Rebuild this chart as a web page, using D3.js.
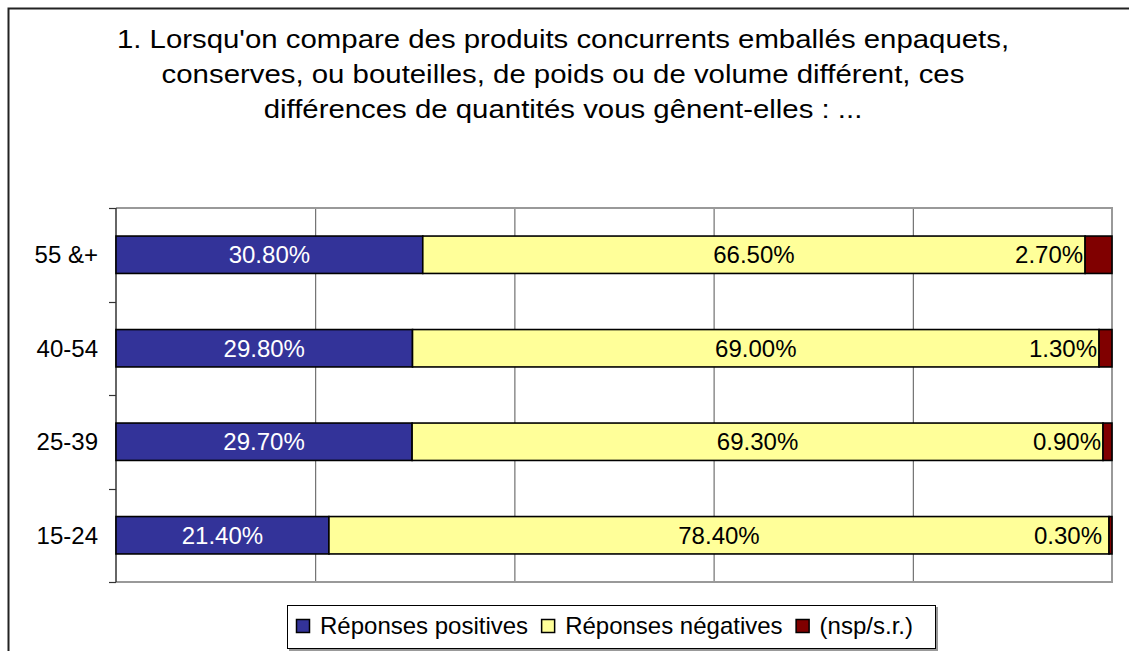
<!DOCTYPE html>
<html>
<head>
<meta charset="utf-8">
<script src="https://cdn.jsdelivr.net/npm/d3@7"></script>
<style>
body{margin:0;background:#fff;}
svg text{font-family:"Liberation Sans",Arial,sans-serif;}
</style>
</head>
<body>
<svg id="svg_canvas" width="1129" height="651"></svg>
<script>

// data
var categories=["55 &+","40-54","25-39","15-24"];
var positives=[30.8,29.8,29.7,21.4];
var negatives=[66.5,69.0,69.3,78.4];
var nsp=[2.7,1.3,0.9,0.3];
var series_names=["Réponses positives","Réponses négatives","(nsp/s.r.)"];
var series_colors=["#333399","#FFFF99","#800000"];
var x_ticks=[0,20,40,60,80,100];
var title_lines=["1. Lorsqu'on compare des produits concurrents emballés enpaquets,",
	"conserves, ou bouteilles, de poids ou de volume différent, ces",
	"différences de quantités vous gênent-elles : ..."];

var svg=d3.select("#svg_canvas");

var left_x=116, right_x=1112, top_y=208, bottom_y=582;
var fsize=24;

// outer frame (left + top only, right side is cut off)
svg.append("path")
	.attr("d","M8.5,651 L8.5,8.5 L1129,8.5")
	.attr("fill","none").attr("stroke","#222").attr("stroke-width",2);

// title, font looks a bit wider than the rest
var title_g=svg.append("g").attr("transform","translate(563,0) scale(1.13,1)");
title_g.selectAll("text").data(title_lines)
	.enter().append("text")
		.attr("x",0)
		.attr("y",function(d,i){return 48+i*35;})
		.attr("text-anchor","middle")
		.attr("font-size",26)
		.attr("fill","#000")
		.text(function(d){return d;});

var x=d3.scaleLinear().domain([0,100]).range([left_x,right_x]);
var y=d3.scaleBand().domain(categories).range([top_y,bottom_y]).paddingInner(0.6).paddingOuter(0.3);

// stacked rows, normalised like a 100% stacked chart
var rows=categories.map(function(c,i){
	var vals=[positives[i],negatives[i],nsp[i]];
	var total=d3.sum(vals);
	var acc=0;
	var segs=vals.map(function(v,k){
		var s={cat:c,k:k,v:v,x0:acc/total*100,x1:(acc+v)/total*100};
		acc+=v;
		return s;
	});
	return segs;
});

// grid lines
svg.append("g").selectAll("line").data(x_ticks.slice(1,-1))
	.enter().append("line")
		.attr("x1",function(d){return x(d)+0.5;}).attr("x2",function(d){return x(d)+0.5;})
		.attr("y1",top_y).attr("y2",bottom_y)
		.attr("stroke","#555").attr("stroke-width",1);

// plot border top/right/bottom
svg.append("path")
	.attr("d","M"+x(0)+","+top_y+" L"+x(100)+","+top_y+" L"+x(100)+","+bottom_y+" L"+x(0)+","+bottom_y)
	.attr("fill","none").attr("stroke","#999").attr("stroke-width",2);

// left axis with ticks between categories
var step=y.step();
var tick_ys=d3.range(categories.length+1).map(function(i){return top_y+i*step;});
svg.append("line")
	.attr("x1",left_x).attr("x2",left_x).attr("y1",top_y).attr("y2",bottom_y)
	.attr("stroke","#333").attr("stroke-width",1.5);
svg.append("g").selectAll("line").data(tick_ys)
	.enter().append("line")
		.attr("x1",left_x-7).attr("x2",left_x)
		.attr("y1",function(d){return Math.round(d)+0.5;}).attr("y2",function(d){return Math.round(d)+0.5;})
		.attr("stroke","#333").attr("stroke-width",1.2);

// category labels
svg.append("g").selectAll("text").data(categories)
	.enter().append("text")
		.attr("x",98)
		.attr("y",function(d){return y(d)+y.bandwidth()/2;})
		.attr("dy","0.36em")
		.attr("text-anchor","end")
		.attr("font-size",fsize)
		.text(function(d){return d;});

var fmt=d3.format(".2f");

// bars
var row_g=svg.append("g").selectAll("g").data(rows)
	.enter().append("g");

row_g.selectAll("rect").data(function(d){return d;})
	.enter().append("rect")
		.attr("x",function(d){return x(d.x0);})
		.attr("width",function(d){return x(d.x1)-x(d.x0);})
		.attr("y",function(d){return y(d.cat);})
		.attr("height",y.bandwidth())
		.attr("fill",function(d){return series_colors[d.k];})
		.attr("stroke","#000").attr("stroke-width",1.6);

row_g.selectAll("text").data(function(d){return d;})
	.enter().append("text")
		.attr("x",function(d){
			if(d.k==2){return Math.min(x(d.x0)-2,right_x-10);}
			return (x(d.x0)+x(d.x1))/2;
		})
		.attr("y",function(d){return y(d.cat)+y.bandwidth()/2;})
		.attr("dy","0.36em")
		.attr("text-anchor",function(d){return d.k==2?"end":"middle";})
		.attr("font-size",fsize)
		.attr("fill",function(d){return d.k==0?"#fff":"#000";})
		.text(function(d){return fmt(d.v)+"%";});

// legend
var legend=svg.append("g");
legend.append("rect")
	.attr("x",289).attr("y",607).attr("width",649).attr("height",44)
	.attr("fill","#999");
legend.append("rect")
	.attr("x",287.5).attr("y",605.5).attr("width",648).attr("height",43)
	.attr("fill","#fff").attr("stroke","#000").attr("stroke-width",1);

var lx=296;
series_names.forEach(function(name,i){
	legend.append("rect")
		.attr("x",lx+0.5).attr("y",619.5).attr("width",13).attr("height",13)
		.attr("fill",series_colors[i]).attr("stroke","#000").attr("stroke-width",1.5);
	var t=legend.append("text")
		.attr("x",lx+24).attr("y",634)
		.attr("font-size",fsize)
		.text(name);
	lx=lx+24+t.node().getComputedTextLength()+13;
});

</script>
</body>
</html>
